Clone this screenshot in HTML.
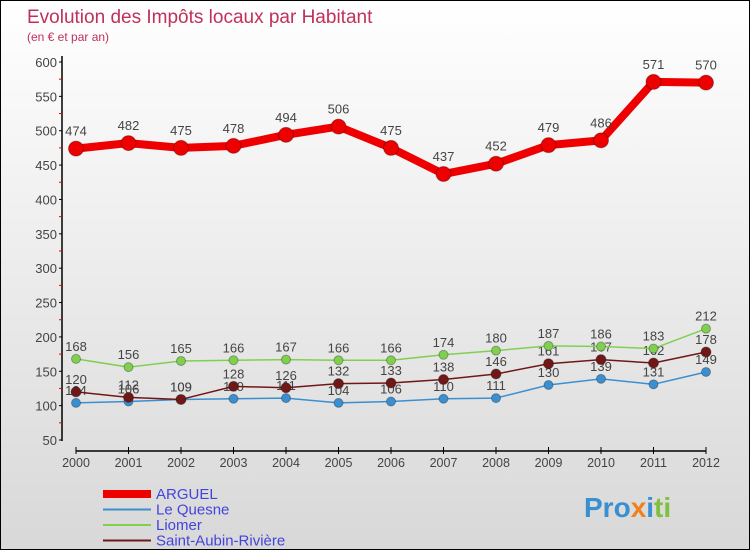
<!DOCTYPE html>
<html><head><meta charset="utf-8"><style>
body{margin:0;}
#c{width:750px;height:550px;position:relative;overflow:hidden;box-sizing:border-box;border:1px solid #000;background:linear-gradient(#ffffff,#d8d8d8);font-family:"Liberation Sans",sans-serif;}
</style></head><body>
<div id="c">
<svg id="s" width="750" height="550" xmlns="http://www.w3.org/2000/svg">
<text x="26" y="22" font-size="19" fill="#c0305a">Evolution des Impôts locaux par Habitant</text>
<text x="26" y="40" font-size="12" fill="#c0305a">(en € et par an)</text>
<g id="axes"></g><g id="series"></g>
<g id="legend" font-size="15" fill="#4444dd"></g>
<text x="583" y="516" font-size="28" font-weight="bold"><tspan fill="#3a8fd0">Pro</tspan><tspan fill="#f08020">x</tspan><tspan fill="#3a8fd0">i</tspan><tspan fill="#80c040">ti</tspan></text>
</svg></div>
<script>
const years=[2000,2001,2002,2003,2004,2005,2006,2007,2008,2009,2010,2011,2012];
const arguel=[474,482,475,478,494,506,475,437,452,479,486,571,570];
const leQuesne=[104,106,109,110,111,104,106,110,111,130,139,131,149];
const liomer=[168,156,165,166,167,166,166,174,180,187,186,183,212];
const saintAubin=[120,112,109,128,126,132,133,138,146,161,167,162,178];
const yTicks=[50,100,150,200,250,300,350,400,450,500,550,600];
const NS="http://www.w3.org/2000/svg";
const X=i=>75+i*(705-75)/12;
const Y=v=>439-(v-50)*(439-61)/550;
function mk(t,a,p){const e=document.createElementNS(NS,t);for(const k in a)e.setAttribute(k,a[k]);p.appendChild(e);return e;}
const ax=document.getElementById('axes');
let l=mk('line',{x1:61,y1:55,x2:61,y2:440,stroke:'#000','stroke-width':1.5},ax);


l=mk('line',{x1:75,y1:450,x2:705,y2:450,stroke:'#000','stroke-width':1.5},ax);


yTicks.forEach((v,i)=>{
 mk('line',{x1:58,y1:Y(v),x2:61,y2:Y(v),stroke:'#000'},ax);
 if(i<yTicks.length-1)mk('line',{x1:58,y1:Y(v+25),x2:61,y2:Y(v+25),stroke:'#e00'},ax);
 const t=mk('text',{x:56,y:Y(v)+5,'text-anchor':'end','font-size':13,fill:'#444'},ax);t.textContent=v;
 
 
});
years.forEach((y,i)=>{
 mk('line',{x1:X(i),y1:446,x2:X(i),y2:453,stroke:'#000'},ax);
 const t=mk('text',{x:X(i),y:466,'text-anchor':'middle','font-size':12.5,fill:'#444'},ax);t.textContent=y;
 
 
});
const sg=document.getElementById('series');
function series(data,color,w,r,name,dy){
 const g=mk('g',{},sg);
 
 
 mk('polyline',{points:data.map((v,i)=>X(i)+','+Y(v)).join(' '),fill:'none',stroke:color,'stroke-width':w,'stroke-linejoin':'round'},g);
 data.forEach((v,i)=>{
  const c=mk('circle',{cx:X(i),cy:Y(v),r:r,fill:color,stroke:'rgba(0,0,0,0.3)'},g);
  
  
  const t=mk('text',{x:X(i),y:Y(v)-dy,'text-anchor':'middle','font-size':13,fill:'#444'},g);t.textContent=v;
  
  
 });
}
series(leQuesne,'#3b8fd0',1.5,4.5,'le-quesne',8);
series(saintAubin,'#701818',1.5,5,'saint-aubin',8);
series(liomer,'#80d050',1.5,4.5,'liomer',8);
series(arguel,'#ee0000',8,7.5,'arguel',13);
const lg=document.getElementById('legend');
const leg=[['ARGUEL','#ee0000',8],['Le Quesne','#3b8fd0',2],['Liomer','#80d050',2],['Saint-Aubin-Rivière','#701818',2]];
leg.forEach((d,i)=>{
 const y=493+i*15.5;
 const g=mk('g',{},lg);
 
 
 mk('line',{x1:102,y1:y,x2:150,y2:y,stroke:d[1],'stroke-width':d[2]},g);
 const t=mk('text',{x:155,y:y+5},g);t.textContent=d[0];
});
</script>
</body></html>
